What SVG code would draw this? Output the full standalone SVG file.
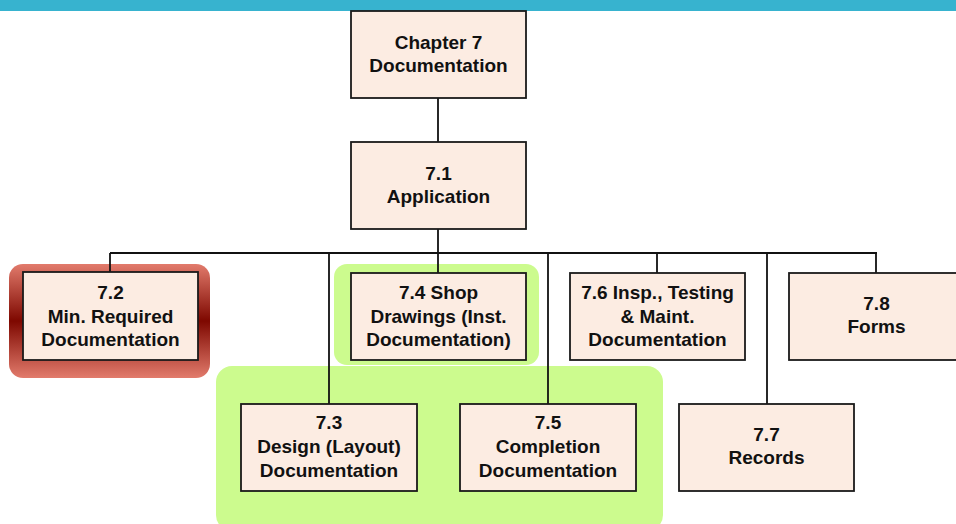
<svg xmlns="http://www.w3.org/2000/svg" width="956" height="524" viewBox="0 0 956 524">
<defs>
<linearGradient id="redGlow" x1="0" y1="0" x2="0" y2="1">
<stop offset="0" stop-color="#E27B6C"/>
<stop offset="0.5" stop-color="#7E0800"/>
<stop offset="1" stop-color="#E27B6C"/>
</linearGradient>
<style>
.box{fill:#FCECE2;stroke:#1A1A1A;stroke-width:1.8}
.t{font-family:"Liberation Sans",Arial,sans-serif;font-weight:bold;font-size:19px;fill:#111;text-anchor:middle}
.c{stroke:#111;stroke-width:1.8;fill:none}
.green{fill:#CCFB8E}
</style>
</defs>
<rect x="0" y="0" width="956" height="11" fill="#37B3CF"/>
<g id="highlights">
<rect x="216" y="366" width="447" height="165" rx="16" class="green"/>
<rect x="334" y="264" width="205" height="101" rx="13" class="green"/>
<rect x="9" y="264" width="201" height="114" rx="14" fill="url(#redGlow)"/>
</g>
<g id="connectors">
<line class="c" x1="438" y1="98" x2="438" y2="142"/>
<line class="c" x1="438" y1="229" x2="438" y2="253" stroke-width="3"/>
<line class="c" x1="110" y1="253" x2="877" y2="253"/>
<line class="c" x1="110" y1="253" x2="110" y2="272"/>
<line class="c" x1="329" y1="253" x2="329" y2="404"/>
<line class="c" x1="438" y1="253" x2="438" y2="273"/>
<line class="c" x1="548" y1="253" x2="548" y2="404"/>
<line class="c" x1="657" y1="253" x2="657" y2="273"/>
<line class="c" x1="767" y1="253" x2="767" y2="404"/>
<line class="c" x1="876" y1="253" x2="876" y2="273"/>
</g>
<g id="ch7">
<rect class="box" x="351" y="11" width="175" height="87"/>
<text class="t" x="438.5" y="49">Chapter 7</text>
<text class="t" x="438.5" y="72">Documentation</text>
</g>
<g id="n7_1">
<rect class="box" x="351" y="142" width="175" height="87"/>
<text class="t" x="438.5" y="180">7.1</text>
<text class="t" x="438.5" y="203">Application</text>
</g>
<g id="n7_2">
<rect class="box" x="23" y="272" width="175" height="88"/>
<text class="t" x="110.5" y="299">7.2</text>
<text class="t" x="110.5" y="322.5">Min. Required</text>
<text class="t" x="110.5" y="346">Documentation</text>
</g>
<g id="n7_4">
<rect class="box" x="351" y="273" width="175" height="87"/>
<text class="t" x="438.5" y="299">7.4 Shop</text>
<text class="t" x="438.5" y="322.5">Drawings (Inst.</text>
<text class="t" x="438.5" y="346">Documentation)</text>
</g>
<g id="n7_6">
<rect class="box" x="570" y="273" width="175" height="87"/>
<text class="t" x="657.5" y="299">7.6 Insp., Testing</text>
<text class="t" x="657.5" y="322.5">&amp; Maint.</text>
<text class="t" x="657.5" y="346">Documentation</text>
</g>
<g id="n7_8">
<rect class="box" x="789" y="273" width="175" height="87"/>
<text class="t" x="876.5" y="310">7.8</text>
<text class="t" x="876.5" y="333">Forms</text>
</g>
<g id="n7_3">
<rect class="box" x="241" y="404" width="176" height="87"/>
<text class="t" x="329" y="429">7.3</text>
<text class="t" x="329" y="453">Design (Layout)</text>
<text class="t" x="329" y="476.5">Documentation</text>
</g>
<g id="n7_5">
<rect class="box" x="460" y="404" width="176" height="87"/>
<text class="t" x="548" y="429">7.5</text>
<text class="t" x="548" y="453">Completion</text>
<text class="t" x="548" y="476.5">Documentation</text>
</g>
<g id="n7_7">
<rect class="box" x="679" y="404" width="175" height="87"/>
<text class="t" x="766.5" y="441">7.7</text>
<text class="t" x="766.5" y="464">Records</text>
</g>
</svg>
